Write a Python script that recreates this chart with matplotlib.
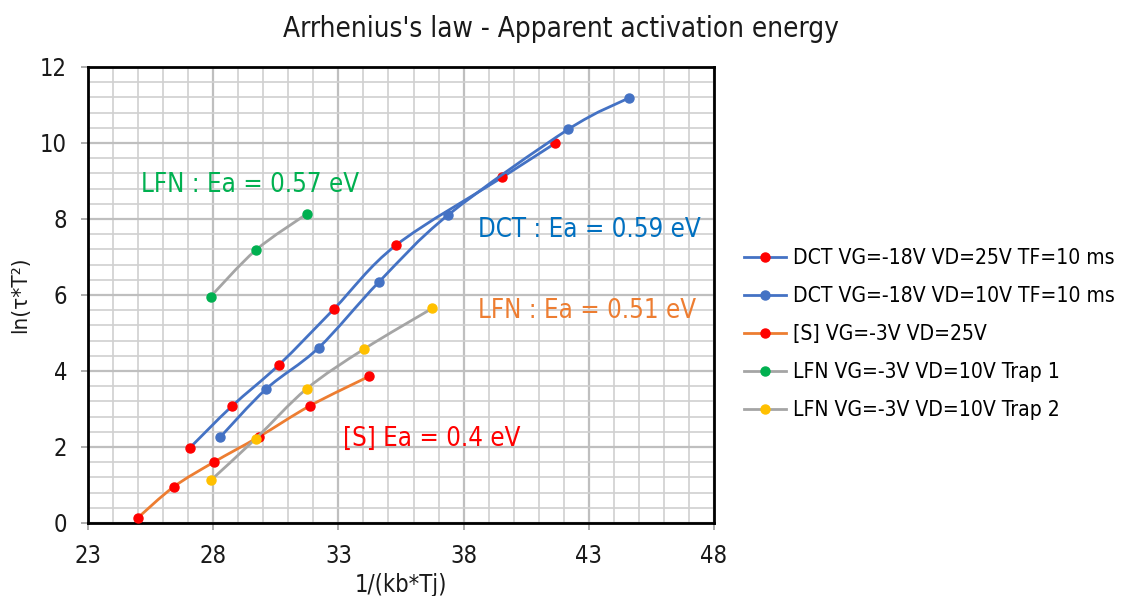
import numpy as np
import matplotlib
matplotlib.use("Agg")
import matplotlib.pyplot as plt
from matplotlib.path import Path
from matplotlib.patches import PathPatch
from matplotlib.lines import Line2D
from matplotlib.ticker import MultipleLocator, FixedLocator

# ---- data ----
dct25_x = [27.07, 28.74, 30.64, 32.82, 35.30, 39.55, 41.65]
dct25_y = [1.98, 3.07, 4.17, 5.63, 7.31, 9.10, 9.99]
dct10_x = [28.28, 30.12, 32.21, 34.63, 37.39, 42.18, 44.62]
dct10_y = [2.26, 3.53, 4.61, 6.35, 8.11, 10.36, 11.19]
s_x = [24.98, 26.42, 28.02, 29.83, 31.88, 34.23]
s_y = [0.13, 0.95, 1.60, 2.27, 3.09, 3.86]
lfn1_x = [27.90, 29.70, 31.73]
lfn1_y = [5.96, 7.18, 8.13]
lfn2_x = [27.90, 29.70, 31.73, 34.03, 36.75]
lfn2_y = [1.12, 2.22, 3.53, 4.58, 5.65]

x_ticks = [23, 28, 33, 38, 43, 48]
y_ticks = [0, 2, 4, 6, 8, 10, 12]

labels = ["DCT VG=-18V VD=25V TF=10 ms",
          "DCT VG=-18V VD=10V TF=10 ms",
          "[S] VG=-3V VD=25V",
          "LFN VG=-3V VD=10V Trap 1",
          "LFN VG=-3V VD=10V Trap 2"]
line_colors = ["#4472C4", "#4472C4", "#ED7D31", "#A5A5A5", "#A5A5A5"]
marker_colors = ["#FF0000", "#4472C4", "#FF0000", "#00B050", "#FFC000"]

annotations = [("LFN : Ea = 0.57 eV", "#00B050"),
               ("DCT : Ea = 0.59 eV", "#0070C0"),
               ("LFN : Ea = 0.51 eV", "#ED7D31"),
               ("[S] Ea = 0.4 eV", "#FF0000")]
annot_pos = [(25.1, 8.9), (38.57, 7.72), (38.57, 5.58), (33.18, 2.2)]

series = [(dct25_x, dct25_y), (dct10_x, dct10_y), (s_x, s_y),
          (lfn1_x, lfn1_y), (lfn2_x, lfn2_y)]


def smooth_path(x, y):
    P = np.column_stack([x, y]).astype(float)
    n = len(P)
    verts = [P[0]]
    codes = [Path.MOVETO]
    for i in range(n - 1):
        p0 = P[i - 1] if i > 0 else P[i]
        p3 = P[i + 2] if i + 2 < n else P[i + 1]
        c1 = P[i] + (P[i + 1] - p0) / 6.0
        c2 = P[i + 1] - (p3 - P[i]) / 6.0
        verts += [c1, c2, P[i + 1]]
        codes += [Path.CURVE4] * 3
    return Path(verts, codes)


plt.rcParams['font.family'] = ['DejaVu Sans']
plt.rcParams['font.stretch'] = 'condensed'
fig = plt.figure(figsize=(11.22, 5.96), dpi=100)
ax = fig.add_axes([88 / 1122, 73 / 596, 626 / 1122, 456 / 596])

ax.set_xlim(23, 48)
ax.set_ylim(0, 12)
ax.xaxis.set_major_locator(FixedLocator(x_ticks))
ax.xaxis.set_minor_locator(MultipleLocator(1))
ax.yaxis.set_major_locator(FixedLocator(y_ticks))
ax.yaxis.set_minor_locator(MultipleLocator(0.4))
ax.grid(which='major', color='#BFBFBF', linewidth=1.6, zorder=0)
ax.grid(which='minor', color='#D0D0D0', linewidth=1.2, zorder=0)
ax.set_axisbelow(True)
ax.tick_params(which='minor', length=0)
ax.tick_params(which='major', length=5, width=1.2, color='#A0A0A0',
               labelsize=17, labelcolor='#1a1a1a', pad=10)
for sp in ax.spines.values():
    sp.set_color('black')
    sp.set_linewidth(2)

handles = []
for k, ((x, y), lc, mc) in enumerate(zip(series, line_colors, marker_colors)):
    patch = PathPatch(smooth_path(x, y), facecolor='none', edgecolor=lc,
                      linewidth=2, zorder=3 + k)
    ax.add_patch(patch)
    ax.plot(x, y, linestyle='none', marker='o', markersize=6.5,
            markerfacecolor=mc, markeredgecolor=mc, zorder=3.5 + k)
    handles.append(Line2D([], [], color=lc, linewidth=2, marker='o',
                          markersize=6.5, markerfacecolor=mc,
                          markeredgecolor=mc))

for (txt, col), (tx, ty) in zip(annotations, annot_pos):
    ax.text(tx, ty, txt, color=col, fontsize=18.5, ha='left', va='center',
            zorder=10)

ax.set_xlabel("1/(kb*Tj)", fontsize=17, color='#1a1a1a', labelpad=4)
ax.set_ylabel("ln(τ*T²)", fontsize=16, color='#1a1a1a', labelpad=7)
fig.suptitle("Arrhenius's law - Apparent activation energy", fontsize=20,
             color='#1a1a1a', x=0.5, y=0.975)

fig.legend(handles, labels, loc='center left',
           bbox_to_anchor=(736 / 1122, 1 - 334 / 596), frameon=False,
           fontsize=15.1, handlelength=2.0, labelspacing=0.86,
           handletextpad=0.3, borderaxespad=0)

fig.savefig("out.png", dpi=100)
